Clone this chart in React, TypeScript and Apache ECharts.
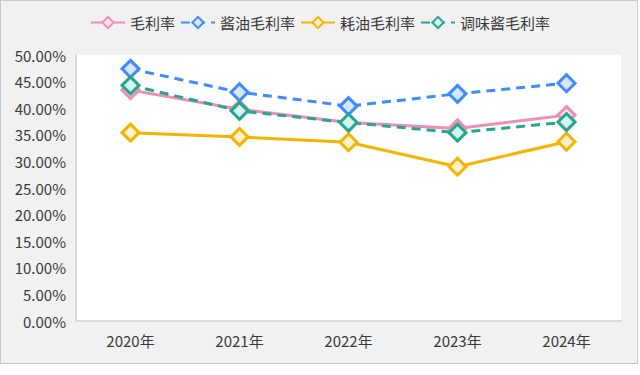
import React, { useEffect, useRef } from "react";
import * as echarts from "echarts";

const years = ["2020年", "2021年", "2022年", "2023年", "2024年"];
const grossMargin = [43.4, 39.8, 37.3, 36.2, 38.7];
const soySauceMargin = [47.4, 43.0, 40.4, 42.7, 44.7];
const oysterSauceMargin = [35.4, 34.6, 33.6, 29.0, 33.7];
const condimentMargin = [44.3, 39.5, 37.3, 35.4, 37.4];

const FONT = "'Noto Sans CJK SC', 'Noto Sans', sans-serif";

function mk(name: string, data: number[], color: string, fill: string, dashed: boolean) {
  return {
    name,
    type: "line",
    data,
    symbol: "diamond",
    symbolSize: 17,
    showSymbol: true,
    lineStyle: { color, width: 3, type: dashed ? [9, 6] : "solid" },
    itemStyle: { color: fill, borderColor: color, borderWidth: 3 },
  };
}

export default function App() {
  const ref = useRef<HTMLDivElement>(null);
  useEffect(() => {
    if (!ref.current) return;
    const chart = echarts.init(ref.current, undefined, { renderer: "svg" });
    chart.setOption({
      animation: false,
      backgroundColor: "transparent",
      textStyle: { fontFamily: FONT },
      legend: {
        top: 10,
        left: "center",
        itemGap: 5,
        itemWidth: 34,
        itemHeight: 14,
        textStyle: { fontSize: 15, color: "#3a3a3a", fontFamily: FONT },
        data: ["毛利率", "酱油毛利率", "耗油毛利率", "调味酱毛利率"],
      },
      grid: {
        left: 76,
        right: 19,
        top: 55,
        bottom: 54,
        show: true,
        backgroundColor: "#ffffff",
        borderWidth: 0,
      },
      xAxis: {
        type: "category",
        data: years,
        boundaryGap: true,
        axisLine: { show: true, lineStyle: { color: "#d9d9d9", width: 2 } },
        axisTick: { show: false },
        axisLabel: { fontSize: 15, color: "#3a3a3a", margin: 12, fontFamily: FONT },
        splitLine: { show: false },
      },
      yAxis: {
        type: "value",
        min: 0,
        max: 50,
        interval: 5,
        axisLine: { show: true, lineStyle: { color: "#d9d9d9", width: 2 } },
        axisTick: { show: false },
        splitLine: { show: false },
        axisLabel: {
          fontSize: 15,
          color: "#3a3a3a",
          margin: 10,
          fontFamily: FONT,
          formatter: (v: number) => v.toFixed(2) + "%",
        },
      },
      series: [
        mk("毛利率", grossMargin, "#ef8db5", "#fde6ef", false),
        mk("酱油毛利率", soySauceMargin, "#3d8bff", "#d8e7ff", true),
        mk("耗油毛利率", oysterSauceMargin, "#f5b400", "#fff1cc", false),
        mk("调味酱毛利率", condimentMargin, "#26a68f", "#d2f6ee", true),
      ],
    });
    return () => chart.dispose();
  }, []);
  return (
    <div style={{ position: "fixed", left: 0, top: 0, width: 640, height: 375, background: "#ffffff" }}>
      <div
        style={{
          position: "absolute",
          left: 0,
          top: 0,
          width: 636,
          height: 362,
          border: "1px solid #c8c8c8",
          background: "#f1f1f1",
        }}
      />
      <div ref={ref} style={{ position: "absolute", left: 0, top: 0, width: 640, height: 375 }} />
    </div>
  );
}
